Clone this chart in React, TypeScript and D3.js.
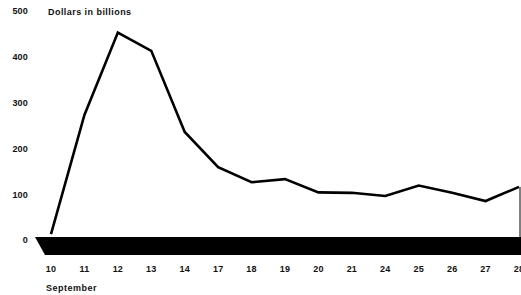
import React from "react";
import * as d3 from "d3";

const days: string[] = ["10", "11", "12", "13", "14", "17", "18", "19", "20", "21", "24", "25", "26", "27", "28"];
const values: number[] = [13, 273, 453, 413, 236, 159, 126, 133, 104, 103, 96, 119, 103, 85, 116];
const yTicks: number[] = [0, 100, 200, 300, 400, 500];

const W = 521;
const H = 295;

export default function App() {
  const x = d3.scalePoint<string>().domain(days).range([51, 519]);
  const y = d3.scaleLinear().domain([0, 500]).range([240, 11]);
  const line = d3
    .line<number>()
    .x((_, i) => x(days[i]) as number)
    .y((d) => y(d));

  const font = "'Liberation Sans', Arial, Helvetica, sans-serif";
  const bandTop = 237;
  const bandBottom = 255;
  const lastY = y(values[values.length - 1]);

  return (
    <svg
      width={W}
      height={H}
      style={{ position: "absolute", left: 0, top: 0, background: "#fff" }}
    >
      <rect x={0} y={0} width={W} height={H} fill="#fff" />
      {yTicks.map((t) => (
        <text
          key={t}
          x={28}
          y={y(t) + 1}
          textAnchor="end"
          dominantBaseline="middle"
          fontFamily={font}
          fontWeight="bold"
          fontSize={9}
          letterSpacing={0.2}
          fill="#111"
        >
          {t}
        </text>
      ))}
      <text x={48} y={15} fontFamily={font} fontWeight="bold" fontSize={9} letterSpacing={0.45} fill="#111">
        Dollars in billions
      </text>
      <polygon
        points={`35,${bandTop} ${W},${bandTop} ${W},${bandBottom} 45,${bandBottom}`}
        fill="#000"
      />
      <line x1={520} x2={520} y1={lastY} y2={bandTop} stroke="#000" strokeWidth={1} />
      <path d={line(values) || ""} fill="none" stroke="#000" strokeWidth={2.6} strokeLinejoin="miter" />
      {days.map((d) => (
        <text
          key={d}
          x={x(d) as number}
          y={270}
          textAnchor="middle"
          dominantBaseline="middle"
          fontFamily={font}
          fontWeight="bold"
          fontSize={9}
          letterSpacing={0.2}
          fill="#111"
        >
          {d}
        </text>
      ))}
      <text x={46} y={291} fontFamily={font} fontWeight="bold" fontSize={9} letterSpacing={0.5} fill="#111">
        September
      </text>
    </svg>
  );
}
